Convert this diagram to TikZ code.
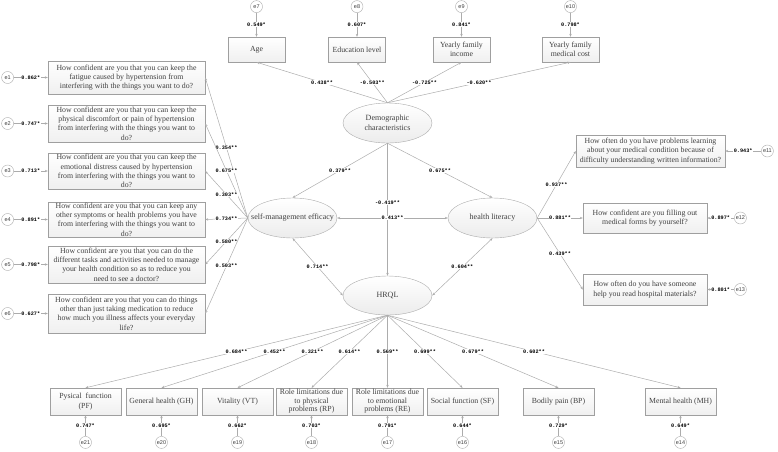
\documentclass[tikz,border=0pt]{standalone}
\usepackage{fontspec}
\setmainfont{Liberation Serif}
\newfontfamily\coeffont{Liberation Mono}
\newfontfamily\errfont{Liberation Sans}
\usetikzlibrary{arrows.meta,positioning,shapes.geometric}

\begin{document}
\begin{tikzpicture}[x=1pt,y=-1pt,
  link/.style={-{Stealth[length=3pt,width=2.4pt]},draw=gray!65,line width=0.5pt},
  cov/.style={{Stealth[length=3pt,width=2.4pt]}-{Stealth[length=3pt,width=2.4pt]},draw=gray!65,line width=0.5pt},
  item/.style={draw=gray!75,top color=white,bottom color=gray!12,align=center,inner sep=1pt,text=black!75,font=\fontsize{7.8}{9.3}\selectfont},
  leftq/.style={item,minimum width=157pt,minimum height=36pt},
  rightq/.style={item,minimum width=124pt,minimum height=30pt},
  topq/.style={item,minimum width=57pt,minimum height=25pt},
  botq/.style={item,minimum width=71pt,minimum height=27pt},
  tallq/.style={botq,inner sep=0pt,font=\fontsize{7.8}{8.4}\selectfont},
  latent/.style={ellipse,draw=gray!65,top color=white,bottom color=gray!15,inner sep=0pt,minimum width=89pt,minimum height=40pt},
  ltext/.style={align=center,inner sep=0pt,text=black!75,font=\fontsize{8}{9.5}\selectfont},
  err/.style={circle,draw=gray!65,fill=white,minimum size=12pt,inner sep=0pt,text=black!75,font=\errfont\fontsize{5.5}{6}\selectfont},
  coef/.style={fill=white,inner sep=0.5pt,font=\coeffont\bfseries\fontsize{5.2}{6}\selectfont}
]
\useasboundingbox (0,0) rectangle (778,451);

% latent variables
\node[latent] (dem) at (387.5,123) {};
\node[ltext] (dem-l) at (dem) {Demographic\\characteristics};
\node[latent] (sme) at (292.5,218) {};
\node[ltext] (sme-l) at (sme) {self-management efficacy};
\node[latent] (hl) at (492.5,218) {};
\node[ltext] (hl-l) at (hl) {health literacy};
\node[latent,minimum height=39pt] (hrql) at (387.5,295.5) {};
\node[ltext] (hrql-l) at (hrql) {HRQL};

% demographic indicators
\node[topq] (age) at (256.5,49.5) {Age};
\node[topq] (edu) at (357,49.5) {Education level};
\node[topq] (inc) at (461.5,49.5) {Yearly family\\income};
\node[topq] (cost) at (570.5,49.5) {Yearly family\\medical cost};
\foreach \n/\e/\v/\c in {age/7/0.549*/0.438**, edu/8/0.607*/-0.503**,
    inc/9/0.841*/-0.725**, cost/10/0.798*/-0.620**} {
  \node[err,above=24pt of \n] (e\e) {e\e};
  \draw[link] (e\e) -- node[coef] {\v} (\n);
  \draw[link] (dem.north) -- node[coef] {\c} (\n.south);
}

% self-management efficacy items
\node[leftq,minimum height=33pt] (q1) at (126.5,77.5) {How confident are you that you can keep the\\
  fatigue caused by hypertension from\\interfering with the things you want to do?};
\node[leftq,minimum height=37pt] (q2) at (126.5,123.5) {How confident are you that you can keep the\\
  physical discomfort or pain of hypertension\\from interfering with the things you want to\\do?};
\node[leftq] (q3) at (126.5,171) {How confident are you that you can keep the\\
  emotional distress caused by hypertension\\from interfering with the things you want to\\do?};
\node[leftq,minimum height=35pt] (q4) at (126.5,219.5) {How confident are you that you can keep any\\
  other symptoms or health problems you have\\from interfering with the things you want to\\do?};
\node[leftq,minimum height=37pt] (q5) at (126.5,264.5) {How confident are you that you can do the\\
  different tasks and activities needed to manage\\your health condition so as to reduce you\\need to see a doctor?};
\node[leftq,minimum height=39pt] (q6) at (126.5,313.5) {How confident are you that you can do things\\
  other than just taking medication to reduce\\how much you illness affects your everyday\\life?};
\foreach \n/\e/\v/\c in {q1/1/0.862*/0.354**, q2/2/0.747*/0.675**, q3/3/0.713*/0.303**,
    q4/4/0.891*/0.734**, q5/5/0.798*/0.580**, q6/6/0.627*/0.503**} {
  \node[err,left=34pt of \n] (e\e) {e\e};
  \draw[link] (e\e) -- node[coef] {\v} (\n);
  \draw[link] (sme.west) -- node[coef] {\c} (\n.east);
}

% health literacy items
\node[rightq,minimum width=149pt,minimum height=32pt] (r1) at (650.5,151) {How often do you have problems learning\\
  about your medical condition because of\\difficulty understanding written information?};
\node[rightq] (r2) at (645,218) {How confident are you filling out\\medical forms by yourself?};
\node[rightq,minimum height=31pt] (r3) at (645,289.5) {How often do you have someone\\help you read hospital materials?};
\node[err,right=36pt of r1] (e11) {e11};
\node[err,right=27pt of r2] (e12) {e12};
\node[err,right=27pt of r3] (e13) {e13};
\foreach \n/\e/\v/\c in {r1/11/0.943*/0.937**, r2/12/0.897*/0.881**, r3/13/0.801*/0.439**} {
  \draw[link] (e\e) -- node[coef] {\v} (\n);
  \draw[link] (hl.east) -- node[coef] {\c} (\n.west);
}

% HRQL dimensions
\node[botq] (pf) at (85.5,401.5) {Pysical~ function\\(PF)};
\node[botq] (gh) at (161.5,401.5) {General health (GH)};
\node[botq] (vt) at (237.5,401.5) {Vitality (VT)};
\node[tallq] (rp) at (311.5,401.5) {Role limitations due\\to physical\\problems (RP)};
\node[tallq] (re) at (387.5,401.5) {Role limitations due\\to emotional\\problems (RE)};
\node[botq] (sf) at (462.5,401.5) {Social function (SF)};
\node[botq] (bp) at (558.5,401.5) {Bodily pain (BP)};
\node[botq] (mh) at (680.5,401.5) {Mental health (MH)};
\foreach \n/\e/\v/\c in {pf/21/0.747*/0.684**, gh/20/0.695*/0.452**, vt/19/0.662*/0.321**,
    rp/18/0.703*/0.614**, re/17/0.791*/0.569**, sf/16/0.644*/0.699**,
    bp/15/0.729*/0.679**, mh/14/0.649*/0.602**} {
  \node[err,below=21pt of \n] (e\e) {e\e};
  \draw[link] (e\e) -- node[coef] {\v} (\n);
  \draw[link] (hrql.south) -- node[coef] {\c} (\n.north);
}

% structural paths
\draw[link] (dem.south) -- node[coef,pos=0.45] {-0.419**} (hrql.north);
\draw[link] (dem.south) -- node[coef] {0.379**} (sme.north);
\draw[link] (dem.south) -- node[coef] {0.675**} (hl.north);
\draw[cov] (sme.east) -- node[coef] {0.413**} (hl.west);
\draw[cov] (sme.south) -- node[coef] {0.714**} (hrql.west);
\draw[cov] (hl.south) -- node[coef] {0.604**} (hrql.east);
\end{tikzpicture}
\end{document}
